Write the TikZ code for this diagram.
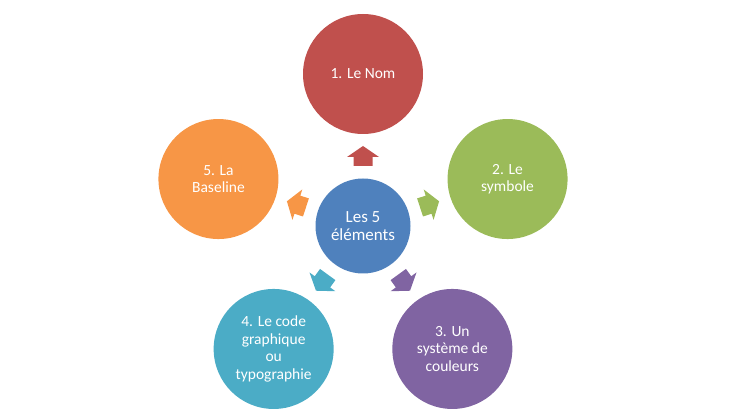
\documentclass[tikz,border=0pt]{standalone}
\usepackage{fontspec}
\setmainfont{Carlito}
\usetikzlibrary{calc}
\definecolor{cRed}{HTML}{C0504D}
\definecolor{cGreen}{HTML}{9BBB59}
\definecolor{cPurple}{HTML}{8064A2}
\definecolor{cTeal}{HTML}{4BACC6}
\definecolor{cOrange}{HTML}{F79646}
\definecolor{cBlue}{HTML}{4F81BD}
\tikzset{
  bubble/.style={circle, minimum size=120pt, inner sep=0pt, text=white, align=center,
    font=\fontsize{15.5pt}{17.4pt}\selectfont},
  hub/.style={bubble, minimum size=95pt, font=\fontsize{17pt}{18.4pt}\selectfont},
}
\newcommand{\blockarrow}[3]{%
  \fill[#3, shift={(#1.center)}, rotate=#2]
    (60pt,-9.5pt) -- (69pt,-9.5pt) -- (69pt,-16pt) -- (80pt,0pt) -- (69pt,16pt) -- (69pt,9.5pt) -- (60pt,9.5pt) -- cycle;}
\begin{document}
\begin{tikzpicture}[x=1pt,y=1pt]
\useasboundingbox (0,0) rectangle (747,420);
\node[hub, fill=cBlue] (c) at (363,194) {Les 5\\éléments};
\node[bubble, fill=cRed] (n1) at ($(c)+(90:152)$) {1. Le Nom};
\node[bubble, fill=cGreen] (n2) at ($(c)+(18:152)$) {2. Le\\symbole};
\node[bubble, fill=cPurple] (n3) at ($(c)+(-54:152)$) {3. Un\\système de\\couleurs};
\node[bubble, fill=cTeal] (n4) at ($(c)+(-126:152)$) {4. Le code\\graphique\\ou\\typographie};
\node[bubble, fill=cOrange] (n5) at ($(c)+(162:152)$) {5. La\\Baseline};
\blockarrow{c}{90}{cRed}
\blockarrow{c}{18}{cGreen}
\blockarrow{c}{-54}{cPurple}
\blockarrow{c}{-126}{cTeal}
\blockarrow{c}{162}{cOrange}
\end{tikzpicture}
\end{document}
